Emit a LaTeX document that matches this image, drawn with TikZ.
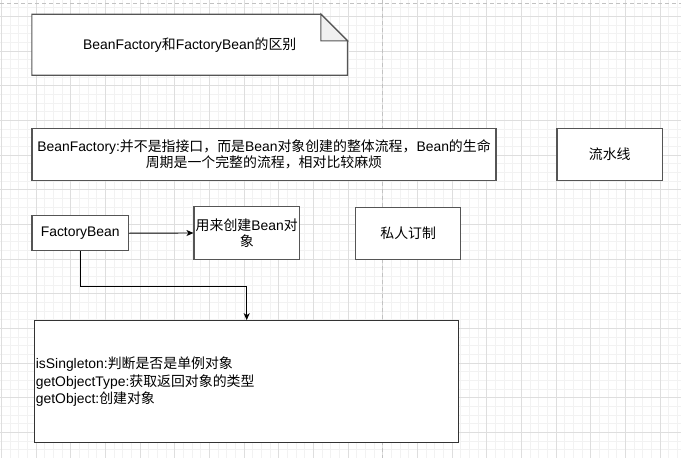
\documentclass[tikz,border=0pt]{standalone}
\usepackage{fontspec}
\setmainfont{Liberation Sans}
\newfontfamily\cjk{Noto Sans CJK SC}
\usetikzlibrary{arrows.meta}
\definecolor{gridminor}{HTML}{F2F2F2}
\definecolor{gridmajor}{HTML}{DEDEDE}
\definecolor{pagebrk}{HTML}{C2C2C2}
\definecolor{boxline}{HTML}{555555}
\definecolor{foldfill}{HTML}{F0F0F0}
\begin{document}
\begin{tikzpicture}[x=1pt,y=-1pt,
  every node/.style={font=\fontsize{13.9}{17}\selectfont, text=black},
  box/.style={draw=boxline, line width=1.2pt, fill=white, inner sep=1pt, align=center},
  arr/.style={draw=black, line width=0.9pt, -{Stealth[length=7pt,width=6pt,inset=2pt]}}]
\useasboundingbox (0,0) rectangle (681,458);
\fill[white] (0,0) rectangle (681,458);
% grid
\foreach \i in {0,...,79} {\draw[gridminor, line width=0.7pt] ({1.3+8.6667*\i},0) -- ({1.3+8.6667*\i},458);}
\foreach \i in {0,...,54} {\draw[gridminor, line width=0.7pt] (0,{-1.0+8.6667*\i}) -- (681,{-1.0+8.6667*\i});}
\foreach \i in {0,...,19} {\draw[gridmajor, line width=0.7pt] ({1.3+34.6667*\i},0) -- ({1.3+34.6667*\i},458);}
\foreach \i in {0,...,13} {\draw[gridmajor, line width=0.7pt] (0,{16.3+34.6667*\i}) -- (681,{16.3+34.6667*\i});}
% page break lines
\draw[pagebrk, line width=0.9pt, dash pattern=on 4pt off 3pt] (382,0) -- (382,458);
\draw[pagebrk, line width=0.9pt, dash pattern=on 4pt off 3pt] (0,3.3) -- (681,3.3);
% title note
\node[minimum width=315.3pt, minimum height=60.7pt, inner sep=0] (title) at (189.7,44.7) {};
\draw[boxline, line width=1.2pt, fill=white]
  (title.north west) -- ([xshift=-26.7pt]title.north east) -- ([yshift=-26.7pt]title.north east)
  -- (title.south east) -- (title.south west) -- cycle;
\draw[boxline, line width=1.2pt, fill=foldfill]
  ([xshift=-26.7pt]title.north east) -- ([xshift=-26.7pt,yshift=-26.7pt]title.north east)
  -- ([yshift=-26.7pt]title.north east) -- cycle;
\node at (title.center) {BeanFactory{\cjk 和}FactoryBean{\cjk 的区别}};
% boxes
\node[box, minimum width=464pt, minimum height=52.4pt] (bf) at (264,154.5)
  {BeanFactory:{\cjk 并不是指接口，而是}Bean{\cjk 对象创建的整体流程，}Bean{\cjk 的生命}\\[-0.5pt]{\cjk 周期是一个完整的流程，相对比较麻烦}};
\node[box, minimum width=105.3pt, minimum height=52.4pt] (pipe) at (609.7,154.5) {\cjk 流水线};
\node[box, minimum width=96.3pt, minimum height=35pt] (fb) at (80.2,233.2) {FactoryBean};
\node[box, minimum width=105.3pt, minimum height=52.6pt] (create) at (246.7,233) {{\cjk 用来创建}Bean{\cjk 对}\\[-0.5pt]{\cjk 象}};
\node[box, minimum width=105pt, minimum height=52pt] (custom) at (408.2,233.3) {\cjk 私人订制};
\node[box, draw=black!80, line width=1pt, minimum width=424pt, minimum height=122.3pt] (big) at (246.7,381.8) {};
\node[anchor=west, align=left, inner sep=0] (bigtext) at ([xshift=1.5pt]big.west)
  {isSingleton:{\cjk 判断是否是单例对象}\\[0.5pt]getObjectType:{\cjk 获取返回对象的类型}\\[0.5pt]getObject:{\cjk 创建对象}};
% connectors
\draw[arr] (fb.east) -- (create.west);
\draw[arr] (fb.south) -- ++(0,35) -| (big.north);
\end{tikzpicture}
\end{document}
